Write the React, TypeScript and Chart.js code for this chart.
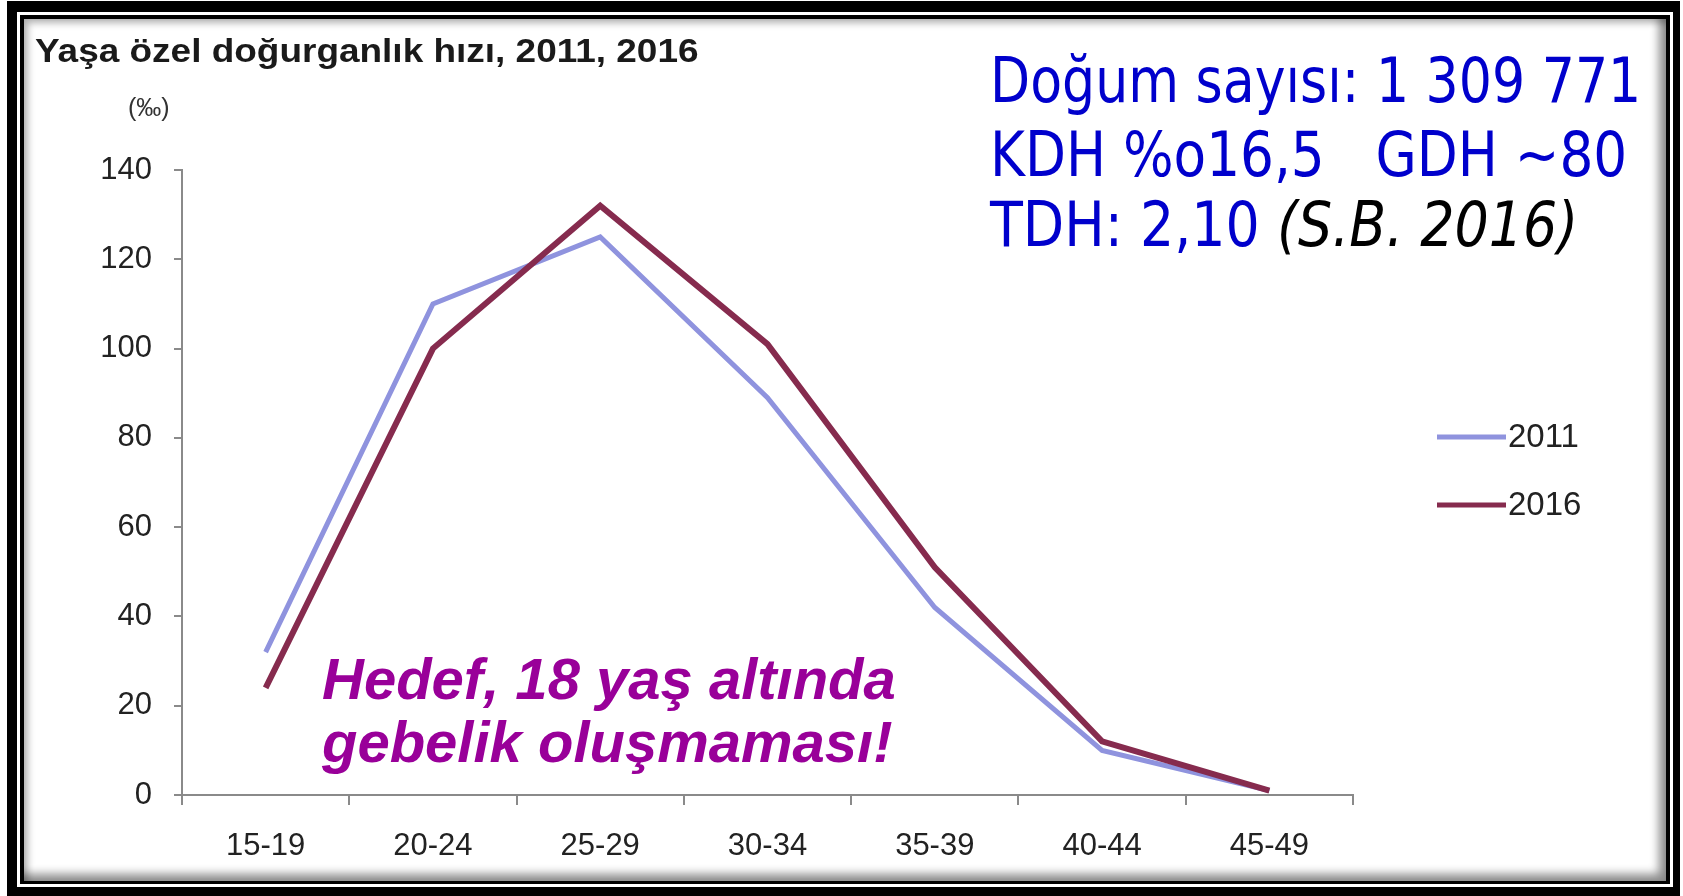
import React, { useEffect, useRef } from "react";
import { Chart, registerables } from "chart.js";

Chart.register(...registerables);

const categories = ["15-19", "20-24", "25-29", "30-34", "35-39", "40-44", "45-49"];
const values2011 = [32, 110, 125, 89, 42, 10, 1];
const values2016 = [24, 100, 132, 101, 51, 12, 1];
const seriesLabels = ["2011", "2016"];
const seriesColors = ["#8f93de", "#862b4e"];
const yMin = 0;
const yMax = 140;
const yStep = 20;

const SANS = "'Liberation Sans', Arial, sans-serif";

const sideLegend = {
  id: "sideLegend",
  afterDraw(chart: any) {
    const ctx = chart.ctx;
    chart.data.datasets.forEach((ds: any, i: number) => {
      const y = 437 + i * 68;
      ctx.save();
      ctx.strokeStyle = ds.borderColor;
      ctx.lineWidth = 5;
      ctx.beginPath();
      ctx.moveTo(1437, y);
      ctx.lineTo(1506, y);
      ctx.stroke();
      ctx.fillStyle = "#222";
      ctx.font = `33px ${SANS}`;
      ctx.textBaseline = "middle";
      ctx.textAlign = "left";
      ctx.fillText(ds.label, 1508, y + 1);
      ctx.restore();
    });
  },
};

function ChartCanvas() {
  const ref = useRef<HTMLCanvasElement | null>(null);
  useEffect(() => {
    if (!ref.current) return;
    const axisColor = "#8a8a8a";
    const chart = new Chart(ref.current, {
      type: "line",
      data: {
        labels: categories,
        datasets: [
          {
            label: seriesLabels[0],
            data: values2011,
            borderColor: seriesColors[0],
            backgroundColor: seriesColors[0],
            borderWidth: 5,
            pointRadius: 0,
            tension: 0,
            order: 1,
          },
          {
            label: seriesLabels[1],
            data: values2016,
            borderColor: seriesColors[1],
            backgroundColor: seriesColors[1],
            borderWidth: 6,
            pointRadius: 0,
            tension: 0,
            order: 0,
          },
        ],
      },
      options: {
        responsive: false,
        animation: false,
        devicePixelRatio: 1,
        layout: { padding: { left: 82, top: 170, right: 330, bottom: 39 } },
        plugins: {
          legend: { display: false },
          tooltip: { enabled: false },
          title: { display: false },
        },
        scales: {
          x: {
            type: "category",
            offset: true,
            grid: {
              offset: true,
              drawOnChartArea: false,
              drawTicks: true,
              tickLength: 10,
              color: axisColor,
              lineWidth: 2,
            },
            border: { display: true, color: axisColor, width: 2 },
            ticks: {
              color: "#222",
              font: { family: SANS, size: 31 },
              padding: 23,
              maxRotation: 0,
              autoSkip: false,
            },
            afterFit: (s: any) => {
              s.height = 62;
            },
          },
          y: {
            min: yMin,
            max: yMax,
            grid: {
              drawOnChartArea: false,
              drawTicks: true,
              tickLength: 8,
              color: axisColor,
              lineWidth: 2,
            },
            border: { display: true, color: axisColor, width: 2 },
            ticks: {
              stepSize: yStep,
              color: "#222",
              font: { family: SANS, size: 31 },
              padding: 22,
            },
            afterFit: (s: any) => {
              s.width = 100;
            },
          },
        },
      },
      plugins: [sideLegend],
    } as any);
    return () => chart.destroy();
  }, []);
  return (
    <canvas
      ref={ref}
      width={1683}
      height={896}
      style={{ position: "absolute", left: 0, top: 0, width: 1683, height: 896 }}
    />
  );
}

export default function App() {
  const abs: React.CSSProperties = { position: "absolute", whiteSpace: "pre", lineHeight: 1 };
  const blue = "#0000cc";
  const blueFont = "'DejaVu Sans Condensed', 'Liberation Sans Narrow', 'DejaVu Sans', sans-serif";
  const blueStyle: React.CSSProperties = {
    ...abs,
    left: 990,
    fontFamily: blueFont,
    fontSize: 62,
    color: blue,
    transform: "scaleX(0.935)",
    transformOrigin: "left top",
  };
  const purpleStyle: React.CSSProperties = {
    ...abs,
    left: 322,
    fontFamily: SANS,
    fontWeight: "bold",
    fontStyle: "italic",
    fontSize: 58,
    color: "#990099",
  };
  return (
    <div
      style={{
        position: "fixed",
        left: 0,
        top: 0,
        width: 1683,
        height: 896,
        background: "#fff",
        overflow: "hidden",
      }}
    >
      <ChartCanvas />
      <div
        style={{
          ...abs,
          left: 35,
          top: 34,
          fontFamily: SANS,
          fontWeight: "bold",
          fontSize: 33,
          color: "#1a1a1a",
          transform: "scaleX(1.12)",
          transformOrigin: "left top",
        }}
      >
        Yaşa özel doğurganlık hızı, 2011, 2016
      </div>
      <div style={{ ...abs, left: 128, top: 95, fontFamily: SANS, fontSize: 25, color: "#333" }}>(‰)</div>
      <div style={{ ...blueStyle, top: 50 }}>Doğum sayısı: 1 309 771</div>
      <div style={{ ...blueStyle, top: 124, transform: "scaleX(0.955)" }}>{"KDH %o16,5   GDH ~80"}</div>
      <div style={{ ...blueStyle, top: 194, transform: "scaleX(0.965)" }}>
        TDH: 2,10 <span style={{ fontStyle: "italic", color: "#000" }}>(S.B. 2016)</span>
      </div>
      <div style={{ ...purpleStyle, top: 650 }}>Hedef, 18 yaş altında</div>
      <div style={{ ...purpleStyle, top: 713 }}>gebelik oluşmaması!</div>
      {/* frame */}
      <div
        style={{
          position: "absolute",
          left: 7,
          top: 1,
          width: 1673,
          height: 895,
          boxSizing: "border-box",
          borderStyle: "solid",
          borderColor: "#000",
          borderWidth: "11px 7px 9px 10px",
          pointerEvents: "none",
        }}
      />
      <div
        style={{
          position: "absolute",
          left: 20,
          top: 15,
          width: 1650,
          height: 869,
          boxSizing: "border-box",
          border: "4px solid #000",
          borderBottomWidth: 3,
          boxShadow: "inset -7px -7px 10px rgba(0,0,0,0.45), inset 4px 4px 7px rgba(0,0,0,0.3)",
          pointerEvents: "none",
        }}
      />
    </div>
  );
}
